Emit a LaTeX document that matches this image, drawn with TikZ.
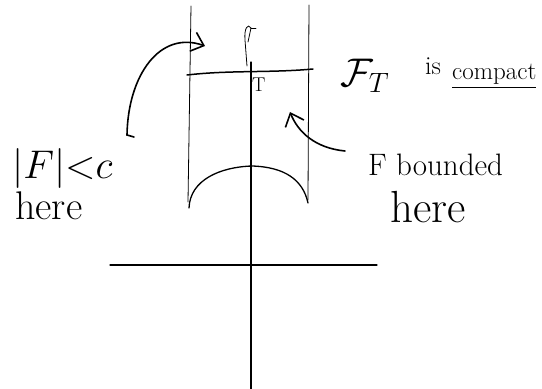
\RequirePackage{fix-cm}
\documentclass[tikz,border=0pt]{standalone}
\usepackage{amsmath,amssymb}
\usepackage{fontspec}
\usepackage{tikz}
\usetikzlibrary{arrows.meta,positioning}

\begin{document}
\begin{tikzpicture}[x=1pt,y=-1pt,
  thinpen/.style={line width=0.8pt,line cap=round},
  axis/.style={line width=1.3pt,line cap=round},
  pen/.style={line width=1.5pt,line cap=round},
  lbl/.style={inner sep=0pt,anchor=base west},
  arr/.style={-{Straight Barb[length=4mm,width=7mm]},line width=1.6pt,line cap=round}
]
\useasboundingbox (0,0) rectangle (542,389);
% axes
\draw[axis] (110,265) -- (377,265);
\draw[axis] (251,389) -- (251,62);
\draw[thinpen] (247,66) -- (245,40) .. controls (244,28) and (248,23) .. (251,28) -- (248,42);
\draw[thinpen] (251,28) -- (256,28);
% strip and the graph over it
\draw[thinpen] (191,6) -- (188,202);
\draw[thinpen] (309,5) -- (308,200);
\draw[pen] (187,75) .. controls (230,70) and (270,73) .. (313,69);
\draw[axis] (189,208) .. controls (190,180) and (220,167) .. (252,166)
  .. controls (285,167) and (303,180) .. (308,203);
\node[lbl,font=\fontsize{20}{22}\selectfont] (tlbl) at (252,91) {T};
% labels
\node[lbl,font=\fontsize{40}{44}\selectfont] (normlbl) at (12,178) {$|F|{<}c$};
\node[lbl,font=\fontsize{40}{44}\selectfont] (normhere) at (15,219) {here};
\node[lbl,font=\fontsize{40}{44}\selectfont] (famlbl) at (340,86) {$\mathcal{F}_T$};
\node[lbl,font=\fontsize{26}{30}\selectfont] (islbl) at (425,74) {is};
\node[lbl,font=\fontsize{25}{30}\selectfont] (compactlbl) at (452,79) {\underline{compact}};
\node[lbl,font=\fontsize{31}{36}\selectfont] (bddlbl) at (368,175) {F bounded};
\node[lbl,font=\fontsize{45}{50}\selectfont] (bddhere) at (390,222) {here};
% arrows
\coordinate (ltail) at (134,137);
\coordinate (ltip) at (205,46);
\coordinate (rtail) at (345,151);
\coordinate (rtip) at (290,112);
\draw[arr] (ltail) -- (127,135) .. controls (128,75) and (160,30) .. (ltip);
\draw[arr] (rtail) .. controls (315,148) and (298,132) .. (rtip);
\end{tikzpicture}
\end{document}
